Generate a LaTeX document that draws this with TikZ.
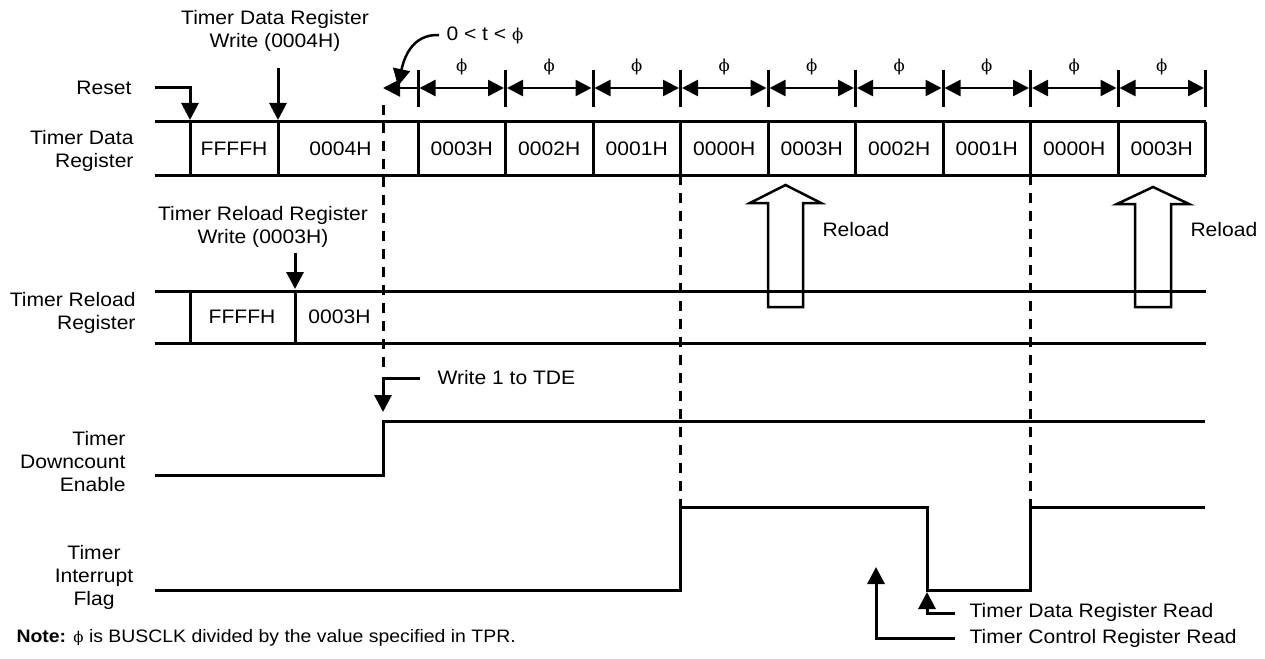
\documentclass[tikz,border=0pt]{standalone}
\usepackage{fontspec}
\setmainfont{Liberation Sans}[FakeStretch=1.08]
\newfontfamily\phifont{DejaVu Serif}
\newcommand{\myphi}{{\phifont\fontsize{16.5}{16.5}\selectfont ϕ}}
\usetikzlibrary{arrows.meta}
\begin{document}
\begin{tikzpicture}[x=1pt,y=-1pt,line width=3pt,
  font=\fontsize{19.5}{23}\selectfont,
  tip/.style={-{Triangle[length=17pt,width=17pt]}},
  dimarr/.style={{Triangle[length=16pt,width=16pt]}-{Triangle[length=16pt,width=16pt]},line width=2.5pt},
  dashline/.style={line width=3pt,dash pattern=on 10pt off 8pt},
  lblr/.style={align=right,anchor=east,inner sep=0pt},
  lblc/.style={align=center,inner sep=0pt},
  txt/.style={inner sep=0pt},
  blockarrow/.style={line width=2.5pt,line join=miter}]
\useasboundingbox (0,0) rectangle (1265,658);

% ---------- Timer Data Register row ----------
\node[lblr] (tdrlbl) at (135,151) {Timer Data\\Register};
\draw (155,122) -- (1205.5,122);
\draw (155,175) -- (1205.5,175);
\draw (190,122) -- (190,175);
\draw (278,122) -- (278,175);
\foreach \i in {0,...,9} {
  \coordinate (c\i) at ({418+87.5*\i},88);
  \draw ({418+87.5*\i},122) -- ({418+87.5*\i},175);
  \draw ({418+87.5*\i},70) -- ({418+87.5*\i},107);
}
\node[txt] (v1) at (234,149) {FFFFH};
\node[txt,anchor=east] (v2) at (373,149) {0004H};
\foreach \v [count=\k from 0] in {0003H,0002H,0001H,0000H,0003H,0002H,0001H,0000H,0003H} {
  \node[txt] (val\k) at ({418+87.5*\k+43.75},149) {\v};
}

% ---------- phi dimension arrows ----------
\foreach \i [evaluate=\i as \j using int(\i+1)] in {0,...,8} {
  \draw[dimarr] ([xshift=1.5pt]c\i) -- ([xshift=-1.5pt]c\j);
  \node[txt] (phi\i) at ({418+87.5*\i+43.75},67) {\myphi};
}
\coordinate (tstart) at (383,88);
\draw[tip,line width=2.5pt] (c0) -- (tstart);
\node[txt,anchor=west] (tlbl) at (445,35) {0 < t < \myphi};
\draw[tip,line width=2.5pt] ([xshift=-6pt]tlbl.west) .. controls (412,34) and (404,58) .. (398,86);

% ---------- Reset and write arrows ----------
\node[txt,anchor=east] (reset) at (133,88) {Reset};
\coordinate (rst0) at (155,88);
\coordinate (rst1) at (190,120);
\draw[tip,line join=miter] (rst0) -| (rst1);
\node[lblc] (tdrw) at (275,31) {Timer Data Register\\Write (0004H)};
\coordinate (w0) at (278,68);
\coordinate (w1) at (278,120);
\draw[tip] (w0) -- (w1);

% ---------- Reload arrows ----------
\draw[blockarrow] (768,307) -- (768,203) -- (750,203) -- (785.5,185) -- (821,203) -- (803,203) -- (803,307) -- cycle;
\node[txt,anchor=west] (rl1) at (821,230) {Reload};
\draw[blockarrow] (1135,307) -- (1135,204) -- (1117,204) -- (1153,187) -- (1189,204) -- (1171,204) -- (1171,307) -- cycle;
\node[txt,anchor=west] (rl2) at (1189,230) {Reload};

% ---------- Timer Reload Register row ----------
\node[lblc] (trrw) at (263,227) {Timer Reload Register\\Write (0003H)};
\coordinate (rw0) at (295,253);
\coordinate (rw1) at (295,289);
\draw[tip] (rw0) -- (rw1);
\node[lblr] (trrlbl) at (137,313) {Timer Reload\\Register};
\draw (155,291) -- (1205.5,291);
\draw (155,343) -- (1205.5,343);
\draw (190,291) -- (190,343);
\draw (295,291) -- (295,343);
\node[txt] (rv1) at (242,317) {FFFFH};
\node[txt,anchor=east] (rv2) at (372,317) {0003H};

% ---------- dashed markers ----------
\draw[dashline] (383,105) -- (383,372);
\draw[dashline] (680.5,175) -- (680.5,507);
\draw[dashline] (1030.5,175) -- (1030.5,507);

% ---------- Timer Downcount Enable ----------
\node[txt,anchor=west] (tde) at (436,378) {Write 1 to TDE};
\coordinate (tde0) at (420,378);
\coordinate (tde1) at (383,412);
\draw[tip,line join=miter] (tde0) -| (tde1);
\node[lblr] (tdelbl) at (127,462) {Timer\\Downcount\\Enable};
\draw[line join=miter] (155,475) -- (383,475) -- (383,421) -- (1205,421);

% ---------- Timer Interrupt Flag ----------
\node[lblc] (tiflbl) at (94,577) {Timer\\Interrupt\\Flag};
\draw[line join=miter] (155,590) -- (680.5,590) -- (680.5,507) -- (927,507) -- (927,590) -- (1030.5,590) -- (1030.5,507) -- (1205,507);

\node[txt,anchor=west] (rd1) at (968,612) {Timer Data Register Read};
\coordinate (rd1a) at (955,613);
\coordinate (rd1b) at (927,592);
\draw[tip,line join=miter] (rd1a) -| (rd1b);
\node[txt,anchor=west] (rd2) at (968,638) {Timer Control Register Read};
\coordinate (rd2a) at (955,638);
\coordinate (rd2b) at (876,567);
\draw[tip,line join=miter] (rd2a) -| (rd2b);

% ---------- Note ----------
\node[txt,anchor=west,font=\fontsize{18}{22}\selectfont] (note) at (15,638) {\textbf{Note:} {\phifont\fontsize{15}{15}\selectfont ϕ} is BUSCLK divided by the value specified in TPR.};
\end{tikzpicture}
\end{document}
